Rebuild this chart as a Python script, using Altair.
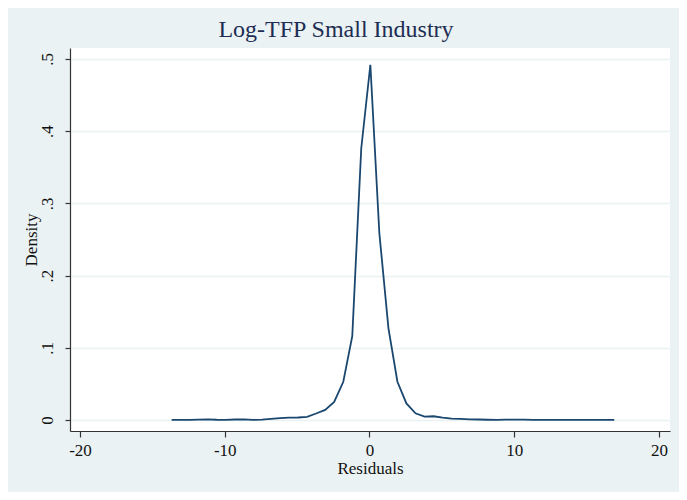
import altair as alt
import pandas as pd

residuals = [-13.67, -13.05, -12.42, -11.80, -11.17, -10.55, -9.93, -9.30, -8.68, -8.05,
             -7.43, -6.81, -6.18, -5.56, -4.93, -4.31, -3.69, -3.06, -2.44, -1.81,
             -1.19, -0.57, 0.06, 0.68, 1.31, 1.93, 2.55, 3.18, 3.80, 4.43,
             5.05, 5.67, 6.30, 6.92, 7.55, 8.17, 8.79, 9.42, 10.04, 10.67,
             11.29, 11.91, 12.54, 13.16, 13.79, 14.41, 15.03, 15.66, 16.28, 16.91]
density = [0.0002, 0.0002, 0.0003, 0.0006, 0.0008, 0.0004, 0.0003, 0.0007, 0.0008, 0.0003,
           0.0006, 0.0015, 0.0025, 0.0032, 0.0035, 0.0045, 0.0090, 0.0140, 0.0250, 0.0530,
           0.1160, 0.3760, 0.4920, 0.2590, 0.1270, 0.0530, 0.0230, 0.0093, 0.0046, 0.0052,
           0.0033, 0.0020, 0.0015, 0.0010, 0.0007, 0.0004, 0.0003, 0.0005, 0.0006, 0.0005,
           0.0003, 0.0002, 0.0002, 0.0002, 0.0003, 0.0002, 0.0002, 0.0002, 0.0002, 0.0002]
x_ticks = [-20, -10, 0, 10, 20]
y_ticks = [0, 0.1, 0.2, 0.3, 0.4, 0.5]

df = pd.DataFrame({"Residuals": residuals, "Density": density})

FONT = "Liberation Serif"
BG = "#EAF2F3"

chart = alt.Chart(df).mark_line(color="#1a476f", strokeWidth=1.8).encode(
    x=alt.X("Residuals:Q",
            scale=alt.Scale(domain=[-20.69, 20.76], nice=False, zero=False),
            axis=alt.Axis(values=x_ticks, title="Residuals", grid=False,
                          labelFontSize=17, titleFontSize=17, labelPadding=5,
                          titlePadding=2, tickSize=6,
                          labelExpr="'' + datum.value")),
    y=alt.Y("Density:Q",
            scale=alt.Scale(domain=[-0.0152, 0.5152], nice=False, zero=False),
            axis=alt.Axis(values=y_ticks, title="Density", grid=True,
                          labelAngle=270, labelAlign="center", labelBaseline="bottom",
                          labelFontSize=17, titleFontSize=17, labelPadding=9,
                          titlePadding=-2, tickSize=5,
                          labelExpr="datum.value == 0 ? '0' : replace(format(datum.value, '.1f'), '0.', '.')")),
).properties(
    width=600,
    height=383,
    title=alt.TitleParams("Log-TFP Small Industry", fontSize=24, font=FONT,
                          fontWeight="normal", color="#1e2d53", anchor="middle",
                          dx=-34, offset=6),
    background=BG,
    padding={"left": 62, "top": 40, "right": 9, "bottom": 61},
    autosize=alt.AutoSizeParams(type="none"),
).configure_view(
    fill="white", stroke=None
).configure_axis(
    labelFont=FONT, titleFont=FONT, labelColor="#111111", titleColor="#111111",
    titleFontWeight="normal", domainColor="#333333", domainWidth=1.2,
    tickColor="#333333", tickWidth=1.2, gridColor=BG, gridWidth=1.6,
)

chart.save("out.html", embed_options={"renderer": "svg", "actions": False})
